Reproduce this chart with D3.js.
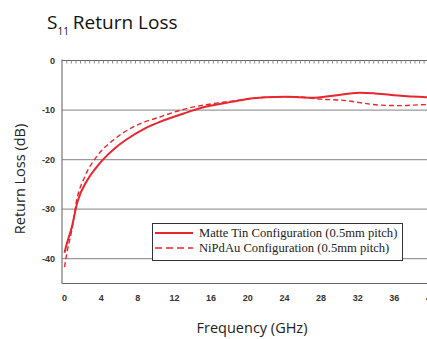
<!DOCTYPE html>
<html>
<head>
<script src="https://d3js.org/d3.v7.min.js"></script>
<style>
  body, html { margin: 0; background: #fff; }
  svg { display: block; }
  .tick-label { font-family: "Liberation Sans", Arial, sans-serif; font-size: 9px; font-weight: bold; fill: #333; }
  .axis-title { font-family: "Open Sans", "Noto Sans", sans-serif; font-size: 14.5px; fill: #222; }
  .legend text { font-family: "Liberation Serif", "Times New Roman", serif; font-size: 12.6px; fill: #222; }
</style>
</head>
<body>
<div id="chart"></div>
<script>
// frequency (GHz) and return loss (dB)
var tinFreq = [0, 0.25, 0.8, 1.4, 2.5, 3.5, 4.2, 5.5, 6.8, 8.6, 10.4, 13, 15.5, 18.4, 20.6, 22, 24.2, 27.1, 29.3, 32.2, 33.7, 35.9, 39.5, 40];
var tinLoss = [-38.8, -37, -33.6, -28.6, -24.1, -21.5, -20, -17.7, -15.9, -13.9, -12.4, -10.7, -9.3, -8.3, -7.6, -7.4, -7.3, -7.5, -7.1, -6.5, -6.6, -7.0, -7.4, -7.45];
var niFreq = [0, 0.24, 0.8, 1.33, 2.2, 3.5, 5.3, 7.5, 10.4, 13.3, 16.6, 19.1, 22, 25, 27.9, 30.8, 32.2, 34.4, 36.6, 39.5, 40];
var niLoss = [-41.7, -39, -34.2, -28.2, -23.5, -19.4, -16.1, -13.4, -11.4, -9.7, -8.6, -8.0, -7.4, -7.3, -7.8, -8.1, -8.5, -9.0, -9.1, -8.9, -8.9];
var xTicks = [0, 4, 8, 12, 16, 20, 24, 28, 32, 36, 40];
var yTicks = [0, -10, -20, -30, -40];
var seriesNames = ["Matte Tin Configuration (0.5mm pitch)", "NiPdAu Configuration (0.5mm pitch)"];

var W = 427, H = 339;
var red = "#e8262e";
var svg = d3.select("#chart").append("svg").attr("width", W).attr("height", H);

var x = d3.scaleLinear().domain([0, 40]).range([64.5, 431]);
var y = d3.scaleLinear().domain([-45, 0]).range([283.5, 60.5]);
var axisLeft = 62;

// title
var title = svg.append("text").attr("x", 47).attr("y", 29).attr("class", "axis-title")
  .style("font-size", "19px").style("fill", "#111");
title.append("tspan").text("S");
title.append("tspan").attr("dy", 6).style("font-size", "10px").text("11");
title.append("tspan").attr("dy", -6).attr("dx", 4).text("Return Loss");

// gridlines
svg.append("g").selectAll("line")
  .data(yTicks.filter(d => d !== 0))
  .enter().append("line")
  .attr("x1", axisLeft).attr("x2", W)
  .attr("y1", d => y(d)).attr("y2", d => y(d))
  .attr("stroke", "#9a9a9a").attr("stroke-width", 1.3);

// top line with small ticks
svg.append("line").attr("x1", axisLeft).attr("x2", W).attr("y1", y(0)).attr("y2", y(0))
  .attr("stroke", "#666").attr("stroke-width", 1.2);
svg.append("g").selectAll("line")
  .data(d3.range(0.5, 40.01, 0.5))
  .enter().append("line")
  .attr("x1", d => x(d) - 2.3).attr("x2", d => x(d) - 2.3)
  .attr("y1", y(0)).attr("y2", y(0) + 3)
  .attr("stroke", "#888").attr("stroke-width", 1);

// bottom and left axis lines
svg.append("line").attr("x1", axisLeft).attr("x2", W).attr("y1", y(-45)).attr("y2", y(-45))
  .attr("stroke", "#666").attr("stroke-width", 1.2);
svg.append("line").attr("x1", axisLeft).attr("x2", axisLeft).attr("y1", y(0) - 1).attr("y2", y(-45))
  .attr("stroke", "#777").attr("stroke-width", 1.2);

// tick labels
svg.append("g").selectAll("text")
  .data(yTicks).enter().append("text")
  .attr("class", "tick-label")
  .attr("x", 55).attr("y", d => y(d) + 3)
  .attr("text-anchor", "end")
  .text(d => d);
svg.append("g").selectAll("text")
  .data(xTicks).enter().append("text")
  .attr("class", "tick-label")
  .attr("x", d => x(d)).attr("y", 301)
  .attr("text-anchor", "middle")
  .text(d => d);

// axis titles
svg.append("text").attr("class", "axis-title")
  .attr("transform", "translate(25,179) rotate(-90)")
  .attr("text-anchor", "middle").text("Return Loss (dB)");
svg.append("text").attr("class", "axis-title")
  .attr("x", 252).attr("y", 333)
  .attr("text-anchor", "middle").text("Frequency (GHz)");

// curves
var line = d3.line().x(d => x(d[0])).y(d => y(d[1])).curve(d3.curveMonotoneX);
svg.append("path")
  .datum(niFreq.map((f, i) => [f, niLoss[i]]))
  .attr("d", line).attr("fill", "none")
  .attr("stroke", red).attr("stroke-width", 1.4).attr("stroke-dasharray", "5,3");
svg.append("path")
  .datum(tinFreq.map((f, i) => [f, tinLoss[i]]))
  .attr("d", line).attr("fill", "none")
  .attr("stroke", red).attr("stroke-width", 2);

// legend
var lg = svg.append("g").attr("class", "legend");
lg.append("rect").attr("x", 152.5).attr("y", 223.5).attr("width", 250).attr("height", 37)
  .attr("fill", "#fff").attr("stroke", "#333").attr("stroke-width", 1);
seriesNames.forEach(function(name, i) {
  var cy = 233 + i * 15;
  lg.append("line").attr("x1", 155).attr("x2", 193).attr("y1", cy).attr("y2", cy)
    .attr("stroke", red).attr("stroke-width", i === 0 ? 2 : 1.6)
    .attr("stroke-dasharray", i === 0 ? null : "7,4");
  lg.append("text").attr("x", 199).attr("y", cy + 4).text(name);
});
</script>
</body>
</html>
